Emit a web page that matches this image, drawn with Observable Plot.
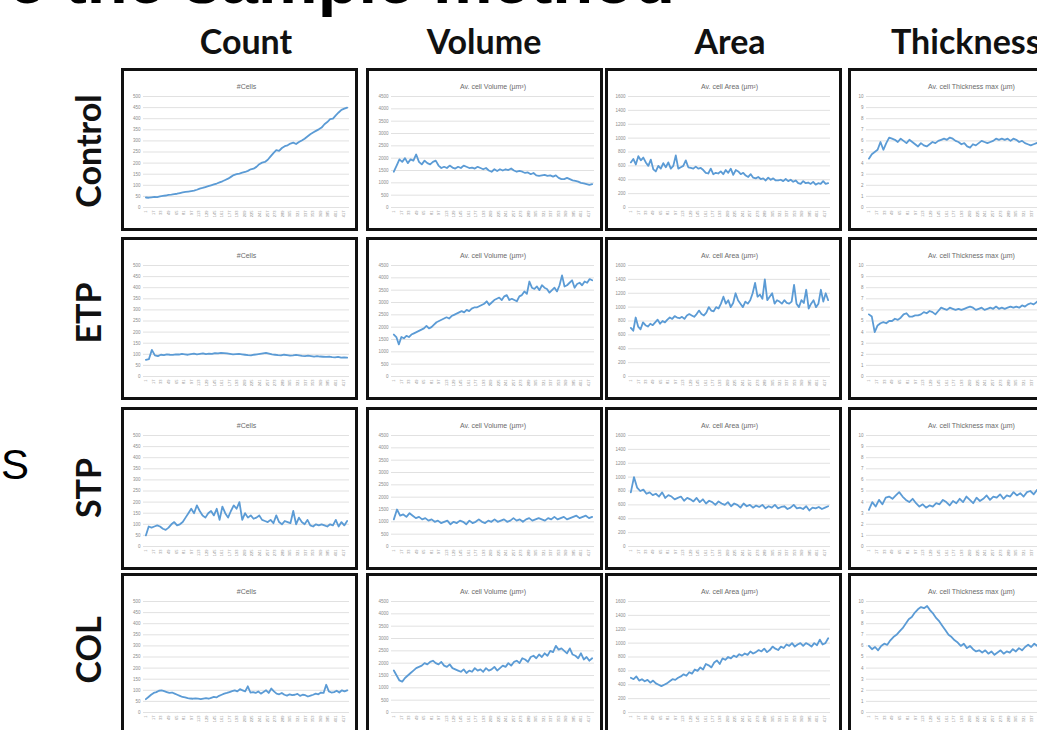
<!DOCTYPE html>
<html><head><meta charset="utf-8">
<script src="https://cdn.jsdelivr.net/npm/d3@7"></script>
<script src="https://cdn.jsdelivr.net/npm/@observablehq/plot@0.6"></script>
<style>
html,body{margin:0;padding:0;background:#fff;}
#page{position:relative;width:1037px;height:730px;overflow:hidden;background:#fff;}
.big{position:absolute;white-space:nowrap;font-family:'Liberation Sans',Arial,sans-serif;color:#000;}
.hdr{position:absolute;font-family:Lato,'Open Sans',sans-serif;font-weight:700;font-size:34px;line-height:1;color:#111;white-space:nowrap;}
.row{position:absolute;font-family:Lato,'Open Sans',sans-serif;font-weight:700;font-size:34px;line-height:1;color:#111;white-space:nowrap;transform:translate(-50%,-50%) rotate(-90deg);}
.panel{position:absolute;border:3px solid #111;background:#fff;width:231px;height:157px;}
.panel svg{display:block;}
</style></head>
<body><div id="page"></div>
<script>
// ---- categories ----
const columns = ["Count", "Volume", "Area", "Thickness"];
const rows = ["Control", "ETP", "STP", "COL"];
const panelTitles = ["#Cells", "Av. cell Volume (µm³)", "Av. cell Area (µm²)", "Av. cell Thickness max (µm)"];
const xTickLabels = [1,17,33,49,65,81,97,113,129,145,161,177,193,209,225,241,257,273,289,305,321,337,353,369,385,401,417];
const countTicks = [0,50,100,150,200,250,300,350,400,450,500];
const volumeTicks = [0,500,1000,1500,2000,2500,3000,3500,4000,4500];
const areaTicks = [0,200,400,600,800,1000,1200,1400,1600];
const thicknessTicks = [0,1,2,3,4,5,6,7,8,9,10];
const lastFrame = 425;

// ---- series values ----
const controlCount = [45,44,46,48,47,50,52,54,57,58,60,62,65,68,70,72,74,76,80,85,88,92,96,100,104,108,113,118,124,130,138,146,150,153,157,160,165,172,175,183,195,202,205,215,230,245,258,255,268,276,280,288,292,286,295,302,310,320,330,338,345,352,360,375,385,398,400,415,428,440,445,450];
const controlVolume = [1450,1700,1950,1850,2000,1800,1950,1900,2150,1850,1750,1900,1800,1750,1850,1900,1700,1600,1650,1600,1700,1620,1580,1650,1600,1700,1650,1600,1620,1580,1650,1600,1550,1600,1500,1450,1550,1480,1550,1500,1550,1520,1580,1500,1450,1480,1450,1400,1420,1350,1400,1300,1280,1300,1320,1280,1300,1250,1300,1200,1150,1150,1200,1150,1100,1080,1050,1000,980,950,920,950];
const controlArea = [650,700,620,740,680,720,650,600,690,550,520,600,560,640,580,650,560,600,750,560,580,600,680,580,570,560,590,560,570,540,500,490,560,480,500,490,520,480,540,500,560,470,540,520,480,500,460,440,480,430,420,440,410,420,390,430,400,420,390,390,400,380,410,380,400,370,390,350,340,380,350,360,340,370,330,350,340,380,340,350];
const controlThickness = [4.4,4.8,5.0,5.2,5.9,5.2,5.8,6.3,6.2,6.1,5.9,6.2,6.0,5.8,6.1,5.9,5.7,5.5,5.8,5.6,5.5,5.7,5.9,5.8,6.0,6.1,6.2,6.1,6.3,6.2,6.0,5.9,5.7,5.8,5.5,5.4,5.7,5.6,5.8,6.0,5.9,5.8,5.9,6.0,6.2,6.1,6.2,6.1,6.2,6.0,6.2,6.1,5.9,6.0,5.8,5.7,5.6,5.7,5.8,5.9,5.8,5.7,5.8,5.9,5.8,5.7,5.8,5.8,5.7,5.8,5.7,5.7];

const etpCount = [75,78,120,95,92,98,96,100,98,97,100,99,102,100,98,101,103,100,102,104,101,103,102,105,104,106,105,104,102,100,101,102,100,98,96,95,98,100,102,104,106,103,100,98,96,95,98,96,94,95,97,95,93,92,94,92,90,92,90,89,88,90,87,86,88,85,86,85];
const etpVolume = [1700,1600,1300,1600,1550,1650,1600,1700,1750,1800,1850,1900,1950,2050,1950,2000,2100,2200,2250,2300,2350,2400,2350,2450,2500,2550,2600,2650,2600,2700,2650,2750,2800,2800,2850,2900,2950,3050,2900,3000,3100,3150,3200,3100,3250,3300,3100,3150,3100,3050,3250,3300,3450,3350,3850,3600,3550,3650,3500,3700,3600,3550,3400,3500,3600,3450,3700,4100,3650,3700,3800,3900,3600,3750,3800,3700,3850,3800,3950,3900];
const etpArea = [700,660,850,720,680,780,740,720,760,740,780,820,760,800,780,820,850,830,870,850,840,860,830,880,900,880,860,900,950,900,880,920,1000,950,940,1000,980,1050,1150,1050,1100,1000,1060,1200,1100,1050,1000,1080,1050,1100,1200,1350,1150,1180,1120,1400,1100,1150,1200,1050,1100,1080,1050,1100,1060,1050,1080,1320,1050,1000,1100,1060,1250,980,1050,1100,1000,1050,1250,1080,1200,1100];
const etpThickness = [5.6,5.4,4.0,4.6,4.8,4.9,4.8,5.0,5.0,5.2,5.1,5.3,5.6,5.7,5.4,5.4,5.5,5.5,5.6,5.8,5.7,5.9,5.8,5.6,5.9,6.2,6.1,6.0,6.2,6.1,6.0,6.1,6.0,6.1,6.2,6.3,6.2,6.0,6.1,6.2,6.0,6.1,6.2,6.1,6.3,6.1,6.2,6.1,6.2,6.3,6.2,6.3,6.2,6.4,6.3,6.5,6.6,6.5,6.7,6.9,6.8,6.4,6.2,6.5,6.7,6.8,6.7,6.8,6.9,6.8,7.0,6.9];

const stpCount = [50,90,85,90,95,90,80,75,85,100,110,95,100,110,130,150,170,150,185,160,140,130,150,160,140,170,120,180,150,130,160,185,170,200,120,150,130,140,125,130,140,120,115,110,120,105,140,110,100,115,110,105,160,100,130,110,100,120,95,90,100,95,100,95,90,100,95,120,90,110,95,115];
const stpVolume = [1100,1500,1250,1300,1200,1350,1250,1150,1200,1100,1150,1050,1100,1000,1050,950,1000,1050,900,1000,950,1050,1000,900,1050,950,1000,1100,1000,950,1050,1000,1100,1000,1050,1100,1000,1050,1150,1050,1100,1000,1100,1150,1050,1100,1150,1100,1050,1150,1100,1200,1100,1150,1200,1100,1150,1200,1250,1150,1200,1250,1150,1200];
const stpArea = [780,1000,850,800,820,760,780,740,760,720,780,700,740,720,680,700,720,660,700,680,650,700,640,680,620,660,640,600,650,620,600,640,580,620,600,560,620,580,600,560,590,570,600,550,580,560,600,550,570,580,540,560,600,550,560,540,580,520,560,550,570,540,560,580];
const stpThickness = [3.3,4.0,3.6,4.2,3.8,4.4,4.5,4.3,4.6,4.9,4.5,4.2,4.0,4.3,3.9,3.6,3.8,3.5,3.7,3.6,3.9,3.8,4.2,4.0,3.7,4.1,3.9,4.3,4.0,4.5,4.2,3.9,4.4,4.1,4.3,4.6,4.2,4.5,4.4,4.7,4.3,4.6,4.5,4.9,4.6,4.8,4.5,4.9,5.0,4.7,5.1,4.8,5.2,5.0,5.3,4.9,5.2,5.4,5.1,5.3,5.5,5.2];

const colCount = [60,70,80,88,92,98,100,96,92,88,90,85,80,75,70,68,65,63,62,64,62,60,63,65,62,66,70,68,75,80,85,88,92,96,100,95,105,100,95,118,90,92,88,95,85,92,100,88,108,95,85,82,88,80,76,82,78,80,84,75,80,78,72,76,80,85,82,90,88,125,95,90,92,98,90,100,95,100];
const colVolume = [1700,1500,1300,1250,1400,1500,1600,1700,1800,1850,1900,2000,1950,2050,2100,2000,1950,2050,1900,1850,1950,1800,1750,1700,1650,1750,1600,1700,1650,1800,1700,1750,1650,1800,1700,1750,1850,1700,1800,1900,1850,2000,1900,2050,2100,2000,2200,2150,2050,2250,2300,2200,2350,2250,2400,2300,2500,2450,2700,2550,2600,2500,2400,2600,2350,2300,2200,2400,2150,2250,2100,2200];
const colArea = [500,480,520,460,480,450,470,430,460,420,400,380,400,420,450,480,470,500,520,550,530,580,560,620,600,650,620,700,680,650,720,750,700,780,760,800,780,820,800,840,820,850,830,880,850,870,900,880,920,870,900,950,920,900,950,930,980,960,1000,950,980,1000,960,1000,980,950,1000,970,1050,980,1000,1070];
const colThickness = [6.0,5.7,5.9,5.6,6.0,6.2,6.1,6.5,6.8,7.0,7.3,7.6,8.0,8.4,8.6,9.0,9.3,9.5,9.4,9.6,9.2,8.9,8.5,8.2,7.8,7.4,7.0,6.8,6.5,6.3,6.0,6.2,5.8,6.0,5.7,5.5,5.6,5.4,5.6,5.3,5.5,5.2,5.4,5.6,5.3,5.5,5.4,5.7,5.5,5.8,5.6,5.9,6.1,5.9,6.2,6.0,6.3,6.2,6.4,6.1,6.3,6.2,6.4,6.3,6.2,6.5,6.3,6.4];

const seriesGrid = [
  [controlCount, controlVolume, controlArea, controlThickness],
  [etpCount, etpVolume, etpArea, etpThickness],
  [stpCount, stpVolume, stpArea, stpThickness],
  [colCount, colVolume, colArea, colThickness]
];
const yTicksByColumn = [countTicks, volumeTicks, areaTicks, thicknessTicks];

// ---- layout ----
const page = document.getElementById("page");
const panelLefts = [121, 366, 605, 848];
const panelTops = [68, 237, 407, 573];
const marginsLeft = [19, 22, 20, 15];
const marginsRight = [6, 6, 9, 6];

function addDiv(cls, text, css) {
  const d = document.createElement("div");
  d.className = cls;
  d.textContent = text;
  Object.assign(d.style, css);
  page.appendChild(d);
  return d;
}

// cropped page title and cropped side label (cut off by the page edge, as in the reference)
addDiv("big", "re the sample method", {right: "362px", top: "-54px", fontSize: "67px", fontWeight: "700", lineHeight: "1"});
addDiv("big", "S", {left: "1px", top: "444px", fontSize: "42px", lineHeight: "1"});

// column headers
const headerCenters = [246, 484, 730, null];
columns.forEach((c, j) => {
  if (headerCenters[j] !== null) {
    const d = addDiv("hdr", c, {left: headerCenters[j] + "px", top: "24px"});
    d.style.transform = "translateX(-50%)";
  } else {
    addDiv("hdr", c, {left: "891px", top: "24px"});
  }
});
// row labels
const rowCenters = [151, 313, 488, 650];
rows.forEach((r, i) => addDiv("row", r, {left: "88px", top: rowCenters[i] + "px"}));

// panels
seriesGrid.forEach((rowSeries, i) => {
  rowSeries.forEach((values, j) => {
    const n = values.length;
    const data = values.map((v, k) => ({frame: 1 + k * (lastFrame - 1) / (n - 1), value: v}));
    const yt = yTicksByColumn[j];
    const chart = Plot.plot({
      width: 231, height: 157,
      marginTop: 25, marginBottom: 21, marginLeft: marginsLeft[j], marginRight: marginsRight[j],
      style: {background: "white", fontFamily: "'Liberation Sans', Arial, sans-serif", color: "#8c8c8c", overflow: "visible"},
      x: {domain: [-4, 430], axis: null},
      y: {domain: [0, yt[yt.length - 1]], axis: null},
      marks: [
        Plot.gridY(yt, {stroke: "#d9d9d9", strokeOpacity: 1, strokeWidth: 0.8}),
        Plot.axisY(yt, {tickSize: 0, tickPadding: 3, fontSize: 4.5, fill: "#8c8c8c", label: null, tickFormat: d => String(d)}),
        Plot.axisX(xTickLabels, {tickSize: 0, tickRotate: -90, tickPadding: 3, fontSize: 4, fill: "#8c8c8c", label: null, tickFormat: d => String(d)}),
        Plot.line(data, {x: "frame", y: "value", stroke: "#5b9bd5", strokeWidth: 1.8, strokeLinejoin: "round"}),
        Plot.text([panelTitles[j]], {text: d => d, frameAnchor: "top", dy: -12, fontSize: 7, fill: "#6b6b6b"})
      ]
    });
    const box = document.createElement("div");
    box.className = "panel";
    box.style.left = panelLefts[j] + "px";
    box.style.top = panelTops[i] + "px";
    box.appendChild(chart);
    page.appendChild(box);
  });
});
</script>
</body></html>
